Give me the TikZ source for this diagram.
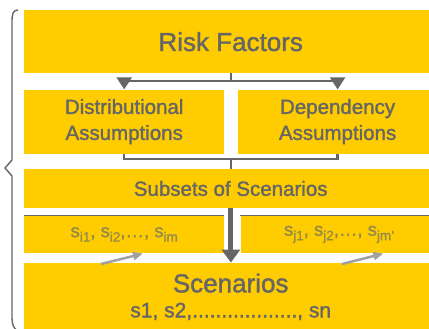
\documentclass[tikz,border=0pt]{standalone}
\usepackage{fontspec}
\setmainfont{Liberation Sans}[RawFeature={embolden=1.5}]
\usetikzlibrary{arrows.meta, positioning, calc}
\definecolor{boxColor}{HTML}{FFCC00}
\definecolor{textColor}{HTML}{666666}
\definecolor{lineColor}{HTML}{666666}
\definecolor{subColor}{HTML}{968B48}
\definecolor{hintColor}{HTML}{A0A0A0}

% scenario with index
\newcommand{\sidx}[1]{s\raisebox{-0.45ex}{\fontsize{13.5}{13.5}\selectfont #1}}

\begin{document}
\begin{tikzpicture}[
    x=1pt, y=-1pt,
    % Box Styles
    base/.style={
        draw=none,
        fill=boxColor,
        sharp corners,
        align=center,
        text=textColor,
        inner sep=0pt
    },
    wideBox/.style={
        base,
        minimum width=413pt
    },
    halfBox/.style={
        base,
        minimum width=200pt,
        minimum height=64pt,
        font=\fontsize{20.5}{26}\selectfont
    },
    subBox/.style={
        base,
        minimum height=38pt,
        text=subColor,
        font=\fontsize{18.5}{20}\selectfont
    },
    % Line Styles
    connector/.style={
        thick,
        line width=2.3pt,
        color=lineColor
    },
    splitArrow/.style={
        connector,
        -{Triangle[length=12pt,width=15pt]}
    },
    mainArrow/.style={
        line width=5pt,
        color=lineColor,
        -{Triangle[length=13pt,width=18pt]}
    },
    hintArrow/.style={
        line width=2.5pt,
        color=hintColor,
        -{Triangle[length=10pt,width=8pt]}
    },
    edgeLine/.style={
        line width=1.2pt,
        color=lineColor
    },
    braceLine/.style={
        line width=1.4pt,
        color=lineColor
    }
]

    % --- FRAME ---
    \useasboundingbox (0,0) rectangle (429,329);
    \clip (0,0) rectangle (429,329);

    % --- BOXES ---
    \node[wideBox, minimum height=63pt, anchor=north west,
          font=\fontsize{26}{30}\selectfont] (risk) at (24,10) {Risk Factors};

    \node[halfBox, below right=16pt and 0pt of risk.south west] (distr) {Distributional\\Assumptions};
    \node[halfBox, right=13pt of distr] (dep) {Dependency\\Assumptions};

    \node[wideBox, minimum height=39pt, font=\fontsize{20.5}{24}\selectfont,
          below right=15pt and 0pt of distr.south west] (subsets) {Subsets of Scenarios};

    \node[subBox, minimum width=200pt, below right=7pt and 0pt of subsets.south west] (subI)
        {\sidx{i1}, \sidx{i2},\dots, \sidx{im}};
    \node[subBox, minimum width=197pt, right=16pt of subI] (subJ)
        {\sidx{j1}, \sidx{j2},\dots, \sidx{jm'}};

    \node[wideBox, minimum height=68pt, font=\fontsize{26}{25}\selectfont,
          below right=9pt and 0pt of subI.south west] (scen)
        {Scenarios\\{\fontsize{21}{25}\selectfont s1, s2,.................., sn}};

    % top edges of the subset boxes
    \draw[edgeLine] (subI.north west) -- (subI.north east);
    \draw[edgeLine] (subJ.north west) -- (subJ.north east);

    % --- CONNECTIONS ---
    \coordinate (split) at ($(distr.east)!0.5!(dep.west)$);
    \coordinate (fork) at (split |- 0,81);
    \coordinate (merge) at (split |- 0,159);

    % Risk Factors -> assumptions
    \draw[connector] (risk.south -| fork) -- (fork);
    \draw[splitArrow] (fork) -| (distr.north);
    \draw[splitArrow] (fork) -| (dep.north);

    % assumptions -> subsets
    \draw[connector] (distr.south) |- (merge) -| (dep.south);
    \draw[connector] (merge) -- (subsets.north -| merge);

    % subsets -> scenarios
    \draw[mainArrow] (subsets.south -| merge) -- (scen.north -| merge);

    % scenarios feed the subsets
    \coordinate (hintI) at (101,264);
    \coordinate (hintJ) at (342,264);
    \draw[hintArrow] (hintI) -- ($(subI.south west)+(119,0)$);
    \draw[hintArrow] (hintJ) -- ($(subJ.south west)+(143,0)$);

    % --- BRACE ---
    \draw[braceLine] (18,10) .. controls (13,10) and (12,14) .. (12,22)
        -- (12,160) -- (5,168) -- (12,176) -- (12,318)
        .. controls (12,325) and (14,329) .. (18,331);

\end{tikzpicture}
\end{document}
